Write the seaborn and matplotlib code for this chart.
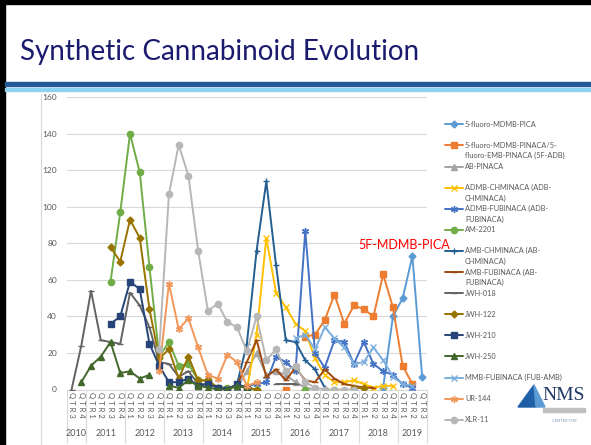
import numpy as np
import pandas as pd
import matplotlib
matplotlib.use("Agg")
import matplotlib.pyplot as plt
import seaborn as sns
from matplotlib.lines import Line2D
from matplotlib.patches import Polygon, Rectangle

nan = np.nan
W, H = 591, 445

qtr_labels = ["QTR3", "QTR4"] + ["QTR1", "QTR2", "QTR3", "QTR4"] * 8 + ["QTR1", "QTR2", "QTR3"]
years = ["2010", "2011", "2012", "2013", "2014", "2015", "2016", "2017", "2018", "2019"]
year_len = [2, 4, 4, 4, 4, 4, 4, 4, 4, 3]

# each series: (index of first quarter, values), nan = no data that quarter
pica_5f = (32, [1, 40, 50, 73, 7])
adb_5f = (22, [0, nan, 29, 30, 38, 52, 36, 46, 44, 40, 63, 45, 13, 3])
ab_pinaca = (17, [1, 10, 20, 8, 10, 8, 4, 1, 0])
adb_chminaca = (18, [0, 30, 83, 53, 45, 36, 32, 17, 8, 4, 4, 5, 3, 1, 2, 2])
adb_fubinaca = (17, [1, 2, 3, 4, 18, 15, 10, 87, 20, 12, 27, 26, 14, 26, 14, 10, 8, 3, 1])
am_2201 = (4, [59, 97, 140, 119, 67, 18, 26, 13, 14, 5, 5, 1, 1, 2, 1, 0,
               nan, nan, nan, nan, 0, nan, nan, 0])
ab_chminaca = (17, [3, 25, 76, 114, 68, 27, 26, 16, 11, 1])
ab_fubinaca = (17, [2, 15, 27, 7, 11, 5, 12, 5, 4, 11, 6, 3, 2, 1, 1])
jwh_018 = (0, [0, 24, 54, 27, 26, 25, 53, 46, 34, 15, 14, 7, 10, 3, 3, 1, 1, 2,
               nan, nan, nan, 3, 3, 3])
jwh_122 = (4, [78, 70, 93, 83, 44, 17, 22, 6, 18, 5, 5, 1, 0, 2, 1, 0,
               nan, nan, nan, nan, nan, nan, nan, nan, nan, 1, 1])
jwh_210 = (4, [36, 40, 59, 55, 25, 13, 4, 4, 6, 2, 3, 1, 0, 3, 1])
jwh_250 = (1, [4, 13, 18, 26, 9, 10, 6, 8, nan, 2, 1, 5, 2, 1, 0, 0, 2, 1])
mmb_fubinaca = (23, [28, 30, 22, 34, 28, 23, 14, 15, 23, 16, 7, 3, 2])
ur_144 = (9, [10, 58, 33, 39, 23, 8, 6, 19, 15, 2, 4])
xlr_11 = (9, [22, 107, 134, 117, 76, 43, 47, 37, 34, 21, 40, 16, 22, 10, 13, 4, 1, 0, 0, 0, 0])

series = [pica_5f, adb_5f, ab_pinaca, adb_chminaca, adb_fubinaca, am_2201, ab_chminaca,
          ab_fubinaca, jwh_018, jwh_122, jwh_210, jwh_250, mmb_fubinaca, ur_144, xlr_11]
legend_lines = [
    ["5-fluoro-MDMB-PICA"],
    ["5-fluoro-MDMB-PINACA/5-", "fluoro-EMB-PINACA (5F-ADB)"],
    ["AB-PINACA"],
    ["ADMB-CHMINACA (ADB-", "CHMINACA)"],
    ["ADMB-FUBINACA (ADB-", "FUBINACA)"],
    ["AM-2201"],
    ["AMB-CHMINACA (AB-", "CHMINACA)"],
    ["AMB-FUBINACA (AB-", "FUBINACA)"],
    ["JWH-018"],
    ["JWH-122"],
    ["JWH-210"],
    ["JWH-250"],
    ["MMB-FUBINACA (FUB-AMB)"],
    ["UR-144"],
    ["XLR-11"],
]
colors = ["#5B9BD5", "#ED7D31", "#A5A5A5", "#FFC000", "#4472C4", "#70AD47", "#255E91",
          "#9E480E", "#636363", "#997300", "#264478", "#43682B", "#7CAFDD", "#F1975A", "#B7B7B7"]
star = (6, 2, 0)
markers = ["D", "s", "^", "x", star, "o", "+", "_", "_", "D", "s", "^", "x", star, "o"]
msizes = [3.5, 4.5, 4, 4, 5, 4.5, 5, 4, 5, 3.5, 4.5, 4, 4, 5, 4.5]


def full(start, vals):
    out = [nan] * len(qtr_labels)
    out[start:start + len(vals)] = vals
    return out


sns.set_style("white")
plt.rcParams["font.family"] = ["Lato", "DejaVu Sans"]

fig = plt.figure(figsize=(W / 100, H / 100), dpi=100)


def fx(px):
    return px / W


def fy(py):
    return 1 - py / H


# slide frame, title and header rules
fig.add_artist(Rectangle((0, fy(4)), 1, 4 / H, color="black", transform=fig.transFigure))
fig.add_artist(Rectangle((0, 0), 5 / W, 1, color="black", transform=fig.transFigure))
fig.text(fx(20), fy(60), "Synthetic Cannabinoid Evolution", fontsize=20, color="#1A1A6E", va="baseline")
fig.add_artist(Rectangle((fx(5), fy(86)), 1, 4 / H, color="#1F5A96", transform=fig.transFigure))
fig.add_artist(Rectangle((fx(5), fy(91)), 1, 3 / H, color="#8DD3F0", transform=fig.transFigure))
fig.add_artist(Line2D([fx(41), fx(41)], [fy(94), 0], color="#D9D9D9", lw=0.8))

left, right, top, bottom = 66.7, 427, 97.3, 389.5
ax = fig.add_axes([fx(left), fy(bottom), (right - left) / W, (bottom - top) / H])

for k, (start, vals) in enumerate(series):
    s = pd.Series(full(start, vals)).dropna()
    d = pd.DataFrame({"q": s.index, "n": s.values})
    d["seg"] = (d["q"].diff() != 1).cumsum()
    c = colors[k]
    sns.lineplot(data=d, x="q", y="n", units="seg", estimator=None, sort=False, ax=ax,
                 color=c, linewidth=1.4, marker=markers[k], markersize=msizes[k],
                 markeredgecolor=c, markerfacecolor=c, markeredgewidth=1.0,
                 legend=False, zorder=3 + k)

ax.set_xlim(-0.5, len(qtr_labels) - 0.5)
ax.set_ylim(0, 160)
ax.set_yticks(range(0, 161, 20))
ax.set_xticks(range(len(qtr_labels)))
ax.set_xticklabels([" ".join(q) for q in qtr_labels], rotation=-90, fontsize=5.5, color="#595959")
ax.tick_params(axis="y", length=0, pad=7, labelsize=6, labelcolor="#595959")
ax.tick_params(axis="x", length=0, pad=2)
ax.set_xlabel("")
ax.set_ylabel("")
ax.yaxis.grid(True, color="#D9D9D9", lw=0.8)
ax.set_axisbelow(True)
for side in ["left", "right", "top"]:
    ax.spines[side].set_visible(False)
ax.spines["bottom"].set_color("#D9D9D9")
ax.spines["bottom"].set_linewidth(0.8)

# year groups under the quarter labels
xt = ax.get_xaxis_transform()
edges = np.cumsum([0] + year_len) - 0.5
ax.vlines(edges, -0.183, 0, transform=xt, color="#D9D9D9", lw=0.8, clip_on=False)
for yr, a, b in zip(years, edges[:-1], edges[1:]):
    ax.text((a + b) / 2, -0.149, yr, transform=xt, ha="center", va="center",
            fontsize=6.5, color="#595959")

# annotation
fig.text(fx(358), fy(245.5), "5F-MDMB-PICA", color="#FF0000", fontsize=9, va="center")

# legend
for k, lines in enumerate(legend_lines):
    y = 124.3 + 21.1 * k
    c = colors[k]
    fig.add_artist(Line2D([fx(445), fx(463)], [fy(y), fy(y)], color=c, lw=1.4))
    fig.add_artist(Line2D([fx(454)], [fy(y)], color=c, marker=markers[k], markersize=msizes[k],
                          markeredgecolor=c, markerfacecolor=c, markeredgewidth=1.0))
    for j, t in enumerate(lines):
        fig.text(fx(465), fy(y + 10.5 * j), t, fontsize=5.3, color="#595959", va="center")

# NMS logo
fig.add_artist(Polygon([[fx(518), fy(407)], [fx(534), fy(385)], [fx(536), fy(407)]],
                       closed=True, color="#1F5FA8", transform=fig.transFigure))
fig.add_artist(Polygon([[fx(534), fy(385)], [fx(545), fy(407)], [fx(536), fy(407)]],
                       closed=True, color="#5B9BD5", transform=fig.transFigure))
fig.text(fx(542), fy(395), "NMS", family="Liberation Serif", fontsize=14, color="#1F3864", va="center")
fig.add_artist(Rectangle((fx(543), fy(412)), 42 / W, 4 / H, color="#BFBFBF", transform=fig.transFigure))
fig.text(fx(564), fy(421), "CENTER FOR", fontsize=3, color="#7F9FBF", ha="center", va="center")

fig.savefig("out.png", dpi=100)
